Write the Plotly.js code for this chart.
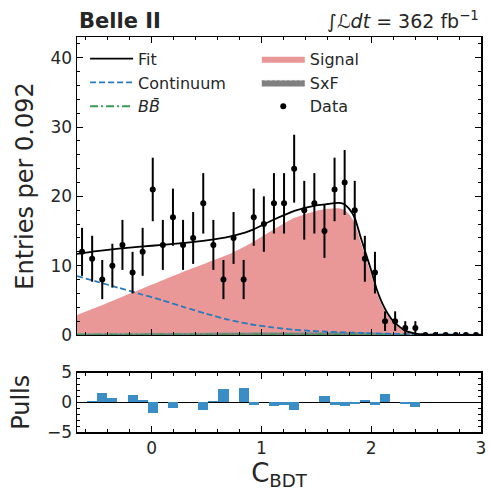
<!DOCTYPE html>
<html>
<head>
<meta charset="utf-8">
<script src="https://cdn.plot.ly/plotly-3.0.1.min.js"></script>
<style>html,body{margin:0;padding:0;background:#fff;}#chart{width:489px;height:491px;}</style>
</head>
<body>
<div id="chart"></div>
<script>
// ---- Data ----
const binLow = -0.68;
const binWidth = 0.092;
const dataCounts = [12,11,8,10,13,9,12,21,13,17,13,14,19,13,8,14,8,17,16,19,19,24,18,19,15,21,22,18,11,9,2,2,1,1,0,0,0,0,0,0];
const pulls = [0.0,0.2,1.55,0.7,0.0,1.25,0.37,-1.8,0.0,-0.96,0.0,0.0,-1.3,0.2,2.22,0.0,2.4,-0.43,0.0,-0.58,-0.43,-1.3,0.0,0.0,1.0,-0.43,-0.58,-0.25,0.37,-0.43,1.38,0.0,-0.25,-0.76,0,0,0,0,0,0];

const curveX     = [-0.68,-0.5,-0.3,-0.1,0.1,0.3,0.5,0.7,0.9,1.1,1.3,1.5,1.6,1.7,1.75,1.8,1.85,1.9,1.95,2.0,2.05,2.1,2.15,2.2,2.3,2.4,2.5,2.7,3.0];
const fitY       = [11.7,12.1,12.45,12.75,13.0,13.3,13.65,14.15,15.05,16.55,17.9,18.7,18.9,19.05,18.9,18.2,16.9,14.3,11.8,9.3,6.6,4.6,3.1,2.0,0.7,0.2,0.05,0.0,0.0];
const signalY    = [2.9,4.0,5.3,6.6,7.9,9.2,10.4,11.6,13.2,15.1,16.9,17.9,18.2,18.3,18.1,17.4,16.1,13.6,11.1,8.7,6.1,4.2,2.8,1.8,0.55,0.12,0.02,0.0,0.0];
const continuumY = [8.5,7.7,6.8,5.9,5.0,4.0,3.05,2.2,1.55,1.1,0.75,0.55,0.47,0.4,0.37,0.35,0.32,0.3,0.27,0.25,0.22,0.2,0.18,0.16,0.14,0.12,0.1,0.07,0.05];
const sxfY       = [0.2,0.22,0.24,0.25,0.27,0.29,0.3,0.32,0.34,0.35,0.37,0.4,0.4,0.4,0.4,0.4,0.38,0.37,0.36,0.35,0.32,0.28,0.24,0.2,0.12,0.05,0.02,0.0,0.0];
const bbY        = [0.05,0.05,0.05,0.05,0.05,0.05,0.05,0.05,0.05,0.05,0.05,0.05,0.05,0.05,0.05,0.05,0.05,0.05,0.05,0.05,0.04,0.04,0.03,0.03,0.02,0.02,0.01,0.01,0.01];

const xTickVals = [0,1,2,3];
const yTickVals = [0,10,20,30,40];
const pullTickVals = [-5,0,5];

// derived bin centres
const binCenters = dataCounts.map((_, i) => +(binLow + binWidth * (i + 0.5)).toFixed(4));
const dataErr = dataCounts.map(v => Math.sqrt(v));

const FONT = "DejaVu Sans, sans-serif";
const TXT = "#262626";

const traces = [
  {x: curveX, y: signalY, type: 'scatter', mode: 'lines', fill: 'tozeroy', fillcolor: '#ea9797',
   line: {width: 0, color: '#ea9797', shape: 'spline', smoothing: 0.6}, name: 'Signal', legend: 'legend2', legendrank: 1, xaxis: 'x', yaxis: 'y'},
  {x: curveX, y: sxfY, type: 'scatter', mode: 'lines', fill: 'tozeroy', fillcolor: '#808080',
   line: {width: 1, color: '#a0a0a0', dash: '3px,2px', shape: 'spline', smoothing: 0.6}, name: 'SxF', legend: 'legend2', legendrank: 2, xaxis: 'x', yaxis: 'y'},
  {x: curveX, y: bbY, type: 'scatter', mode: 'lines', line: {width: 1.8, color: '#3a9a55', dash: '8px,3px,2px,3px', shape: 'spline', smoothing: 0.6},
   name: '<i>B</i><i>B\u0304</i>', legend: 'legend', legendrank: 3, xaxis: 'x', yaxis: 'y'},
  {x: curveX, y: continuumY, type: 'scatter', mode: 'lines', line: {width: 1.8, color: '#2b7bba', dash: '6px,3px', shape: 'spline', smoothing: 0.6},
   name: 'Continuum', legend: 'legend', legendrank: 2, xaxis: 'x', yaxis: 'y'},
  {x: curveX, y: fitY, type: 'scatter', mode: 'lines', line: {width: 1.8, color: '#000', shape: 'spline', smoothing: 0.6},
   name: 'Fit', legend: 'legend', legendrank: 1, xaxis: 'x', yaxis: 'y'},
  {x: binCenters, y: dataCounts, type: 'scatter', mode: 'markers', marker: {color: '#000', size: 6},
   error_y: {type: 'data', array: dataErr, visible: true, color: '#000', thickness: 2, width: 0},
   name: 'Data', legend: 'legend2', legendrank: 3, xaxis: 'x', yaxis: 'y'},
  {x: binCenters, y: pulls, type: 'bar', width: binWidth, marker: {color: '#3a8dc5', line: {width: 0}},
   showlegend: false, xaxis: 'x2', yaxis: 'y2'}
];

const axBase = {
  showline: true, linecolor: '#000', linewidth: 1.5, mirror: 'allticks',
  ticks: 'inside', ticklen: 6, tickwidth: 1, tickcolor: '#000',
  showgrid: false, zeroline: false,
  tickfont: {family: FONT, size: 17, color: TXT}
};

const layout = {
  width: 489, height: 491,
  margin: {l: 77, r: 8, t: 37, b: 59},
  paper_bgcolor: '#fff', plot_bgcolor: '#fff',
  font: {family: FONT, color: TXT},
  bargap: 0,
  xaxis: Object.assign({}, axBase, {
    domain: [0, 1], range: [binLow, 3.0], anchor: 'y', matches: 'x2',
    tickvals: xTickVals, showticklabels: false,
    minor: {dtick: 0.2, tick0: 0, ticks: 'inside', ticklen: 3, tickcolor: '#000', showgrid: false}
  }),
  yaxis: Object.assign({}, axBase, {
    domain: [0.2456, 1], range: [0, 43], anchor: 'x',
    tickvals: yTickVals,
    minor: {dtick: 2, tick0: 0, ticks: 'inside', ticklen: 3, tickcolor: '#000', showgrid: false},
    title: {text: 'Entries per 0.092', font: {family: FONT, size: 24, color: TXT}, standoff: 10}
  }),
  xaxis2: Object.assign({}, axBase, {
    domain: [0, 1], range: [binLow, 3.0], anchor: 'y2',
    tickvals: xTickVals,
    minor: {dtick: 0.2, tick0: 0, ticks: 'inside', ticklen: 3, tickcolor: '#000', showgrid: false},
    title: {text: 'C<sub>BDT</sub>', font: {family: FONT, size: 26, color: TXT}, standoff: 8}
  }),
  yaxis2: Object.assign({}, axBase, {
    domain: [0, 0.1506], range: [-5, 5], anchor: 'x2',
    tickvals: pullTickVals, ticktext: ['\u22125', '0', '5'],
    zeroline: true, zerolinecolor: '#000', zerolinewidth: 1,
    minor: {dtick: 1, tick0: 0, ticks: 'inside', ticklen: 3, tickcolor: '#000', showgrid: false},
    title: {text: 'Pulls', font: {family: FONT, size: 24, color: TXT}, standoff: 10}
  }),
  legend: {
    x: 0.02, y: 0.988, xanchor: 'left', yanchor: 'top',
    bgcolor: 'rgba(0,0,0,0)', borderwidth: 0, itemwidth: 43,
    font: {family: FONT, size: 16, color: TXT}, traceorder: 'normal'
  },
  legend2: {
    x: 0.445, y: 0.988, xanchor: 'left', yanchor: 'top',
    bgcolor: 'rgba(0,0,0,0)', borderwidth: 0, itemwidth: 43,
    font: {family: FONT, size: 16, color: TXT}, traceorder: 'normal'
  },
  annotations: [
    {xref: 'paper', yref: 'paper', x: 0, y: 1, xanchor: 'left', yanchor: 'bottom', yshift: 2, showarrow: false,
     text: '<b>Belle II</b>', font: {family: FONT, size: 21, color: TXT}},
    {xref: 'paper', yref: 'paper', x: 1, y: 1, xanchor: 'right', yanchor: 'bottom', yshift: 2, showarrow: false,
     text: '\u222B<i>\u2112dt</i> = 362 fb<sup>\u22121</sup>', font: {family: FONT, size: 19, color: TXT}}
  ]
};

Plotly.newPlot('chart', traces, layout, {displayModeBar: false, staticPlot: true});
</script>
</body>
</html>
